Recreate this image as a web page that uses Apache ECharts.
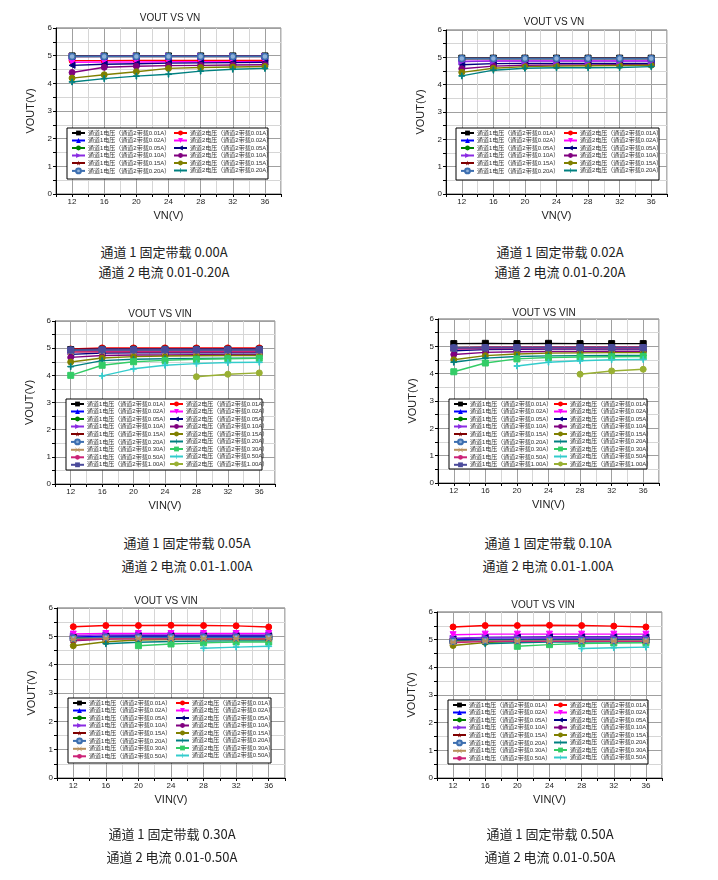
<!DOCTYPE html>
<html><head><meta charset="utf-8">
<script src="https://cdn.jsdelivr.net/npm/echarts@6/dist/echarts.min.js"></script>
<style>
body{margin:0;background:#fff;width:718px;height:880px;position:relative;overflow:hidden}
.ch{position:absolute;width:359px;height:240px}
.cap{position:absolute;font-size:13px;font-family:"Noto Sans CJK SC",sans-serif;color:#222;transform:translateX(-50%);white-space:nowrap;line-height:16px}
</style></head><body>
<div id="c1" class="ch" style="left:0;top:0"></div>
<div id="c2" class="ch" style="left:359px;top:0"></div>
<div id="c3" class="ch" style="left:0;top:290px"></div>
<div id="c4" class="ch" style="left:359px;top:290px"></div>
<div id="c5" class="ch" style="left:0;top:590px"></div>
<div id="c6" class="ch" style="left:359px;top:590px"></div>
<div class="cap" style="left:164px;top:244px">通道 1 固定带载 0.00A</div>
<div class="cap" style="left:164px;top:264px">通道 2 电流 0.01-0.20A</div>
<div class="cap" style="left:560px;top:244px">通道 1 固定带载 0.02A</div>
<div class="cap" style="left:560px;top:264px">通道 2 电流 0.01-0.20A</div>
<div class="cap" style="left:187px;top:535px">通道 1 固定带载 0.05A</div>
<div class="cap" style="left:187px;top:558px">通道 2 电流 0.01-1.00A</div>
<div class="cap" style="left:548px;top:535px">通道 1 固定带载 0.10A</div>
<div class="cap" style="left:548px;top:558px">通道 2 电流 0.01-1.00A</div>
<div class="cap" style="left:172px;top:826px">通道 1 固定带载 0.30A</div>
<div class="cap" style="left:172px;top:849px">通道 2 电流 0.01-0.50A</div>
<div class="cap" style="left:550px;top:826px">通道 1 固定带载 0.50A</div>
<div class="cap" style="left:550px;top:849px">通道 2 电流 0.01-0.50A</div>
<script>
const vin = [12, 16, 20, 24, 28, 32, 36];
const xTickLabels = [12, 16, 20, 24, 28, 32, 36];
const yTickLabels = [0, 1, 2, 3, 4, 5, 6];
const loads = ['0.01A','0.02A','0.05A','0.10A','0.15A','0.20A','0.30A','0.50A','1.00A'];

// Chart 1: ch1 fixed 0.00A
const c1Ch1 = [
  [4.99,4.99,4.99,4.99,4.99,4.99,4.99],
  [4.98,4.98,4.98,4.98,4.98,4.98,4.98],
  [4.98,4.98,4.98,4.98,4.98,4.98,4.98],
  [4.97,4.98,4.98,4.98,4.98,4.98,4.98],
  [4.97,4.97,4.97,4.97,4.97,4.97,4.97],
  [4.97,4.97,4.97,4.97,4.97,4.97,4.97]
];
const c1Ch2 = [
  [4.82,4.82,4.83,4.83,4.83,4.83,4.83],
  [4.76,4.77,4.77,4.78,4.78,4.78,4.78],
  [4.65,4.69,4.71,4.73,4.74,4.75,4.76],
  [4.39,4.58,4.62,4.64,4.65,4.66,4.67],
  [4.19,4.31,4.42,4.54,4.57,4.59,4.61],
  [4.05,4.17,4.26,4.33,4.44,4.51,4.54]
];
// Chart 2: ch1 fixed 0.02A
const c2Ch1 = [
  [4.97,4.97,4.97,4.97,4.97,4.97,4.97],
  [4.96,4.96,4.96,4.96,4.96,4.96,4.96],
  [4.96,4.96,4.96,4.96,4.96,4.96,4.96],
  [4.85,4.86,4.86,4.86,4.86,4.86,4.86],
  [4.96,4.96,4.96,4.96,4.96,4.96,4.96],
  [4.96,4.96,4.96,4.96,4.96,4.96,4.96]
];
const c2Ch2 = [
  [4.96,4.97,4.97,4.97,4.97,4.97,4.97],
  [4.85,4.87,4.87,4.87,4.87,4.87,4.87],
  [4.73,4.77,4.78,4.78,4.78,4.78,4.78],
  [4.58,4.68,4.71,4.72,4.72,4.73,4.73],
  [4.45,4.60,4.66,4.68,4.69,4.70,4.71],
  [4.32,4.53,4.60,4.62,4.62,4.63,4.66]
];
// Chart 3: ch1 fixed 0.05A
const c3Ch1 = [
  [4.95,4.96,4.96,4.96,4.96,4.96,4.96],
  [4.94,4.95,4.95,4.95,4.95,4.95,4.95],
  [4.93,4.94,4.94,4.94,4.94,4.94,4.94],
  [4.90,4.91,4.91,4.91,4.91,4.91,4.91],
  [4.89,4.90,4.90,4.90,4.90,4.90,4.90],
  [4.92,4.93,4.93,4.93,4.93,4.93,4.93],
  [4.87,4.88,4.88,4.88,4.88,4.88,4.88],
  [4.86,4.87,4.87,4.87,4.87,4.87,4.87],
  [4.93,4.94,4.94,4.94,4.94,4.94,4.94]
];
const c3Ch2 = [
  [4.97,5.01,5.01,5.01,5.01,5.01,5.01],
  [4.88,4.91,4.91,4.91,4.91,4.91,4.91],
  [4.77,4.82,4.83,4.83,4.83,4.83,4.83],
  [4.66,4.73,4.75,4.75,4.76,4.76,4.76],
  [4.49,4.64,4.69,4.71,4.72,4.73,4.73],
  [4.32,4.54,4.59,4.61,4.62,4.63,4.63],
  [4.00,4.37,4.50,4.55,4.59,4.61,4.63],
  [null,3.98,4.24,4.37,4.43,4.47,4.48],
  [null,null,null,null,3.95,4.04,4.09]
];
// Chart 4: ch1 fixed 0.10A
const c4Ch1 = [
  [5.10,5.11,5.10,5.11,5.10,5.10,5.10],
  [4.95,4.96,4.96,4.96,4.96,4.96,4.96],
  [4.94,4.95,4.95,4.95,4.95,4.95,4.95],
  [4.93,4.94,4.94,4.94,4.94,4.94,4.94],
  [4.93,4.94,4.94,4.94,4.94,4.94,4.94],
  [4.94,4.95,4.95,4.95,4.95,4.95,4.95],
  [4.92,4.93,4.93,4.93,4.93,4.93,4.93],
  [4.91,4.92,4.92,4.92,4.92,4.92,4.92],
  [4.94,4.95,4.95,4.95,4.95,4.95,4.95]
];
const c4Ch2 = [
  [4.95,4.97,4.97,4.97,4.97,4.97,4.97],
  [4.90,4.93,4.93,4.93,4.93,4.93,4.93],
  [4.84,4.88,4.89,4.90,4.90,4.90,4.90],
  [4.70,4.78,4.80,4.81,4.81,4.82,4.82],
  [4.51,4.66,4.72,4.75,4.76,4.77,4.77],
  [4.42,4.57,4.63,4.65,4.66,4.67,4.67],
  [4.07,4.39,4.54,4.59,4.61,4.62,4.63],
  [null,null,4.28,4.42,4.47,4.51,4.52],
  [null,null,null,null,3.98,4.10,4.16]
];
// Chart 5: ch1 fixed 0.30A
const c5Ch1 = [
  [4.95,4.97,4.97,4.97,4.97,4.97,4.97],
  [4.97,5.00,5.00,5.00,5.00,5.00,5.00],
  [4.94,4.96,4.96,4.96,4.96,4.96,4.96],
  [5.02,5.05,5.05,5.05,5.05,5.05,5.05],
  [4.91,4.94,4.94,4.94,4.94,4.94,4.94],
  [4.93,4.96,4.96,4.96,4.96,4.96,4.96],
  [4.89,4.92,4.92,4.92,4.92,4.92,4.92],
  [4.87,4.91,4.91,4.91,4.91,4.91,4.91]
];
const c5Ch2 = [
  [5.34,5.38,5.38,5.39,5.38,5.37,5.33],
  [5.08,5.10,5.10,5.10,5.10,5.10,5.10],
  [4.95,5.01,5.02,5.02,5.02,5.02,5.02],
  [4.84,4.90,4.92,4.93,4.93,4.93,4.93],
  [4.67,4.81,4.87,4.89,4.89,4.89,4.89],
  [null,4.74,4.79,4.82,4.83,4.84,4.84],
  [null,null,4.67,4.73,4.77,4.80,4.80],
  [null,null,null,null,4.58,4.62,4.65]
];
// Chart 6: ch1 fixed 0.50A
const c6Ch1 = [
  [4.95,4.98,4.98,4.98,4.98,4.98,4.98],
  [4.99,5.02,5.02,5.02,5.02,5.02,5.02],
  [4.96,4.98,4.98,4.98,4.98,4.98,4.98],
  [5.05,5.08,5.08,5.08,5.08,5.08,5.08],
  [4.93,4.96,4.96,4.96,4.96,4.96,4.96],
  [4.94,4.97,4.97,4.97,4.97,4.97,4.97],
  [4.91,4.95,4.95,4.95,4.95,4.95,4.95],
  [4.89,4.94,4.94,4.94,4.94,4.94,4.94]
];
const c6Ch2 = [
  [5.46,5.51,5.51,5.52,5.51,5.49,5.46],
  [5.18,5.20,5.20,5.20,5.20,5.20,5.20],
  [5.03,5.08,5.09,5.10,5.10,5.10,5.10],
  [4.93,5.00,5.01,5.02,5.02,5.02,5.02],
  [4.79,4.90,4.94,4.96,4.97,4.97,4.98],
  [null,4.85,4.89,4.91,4.91,4.92,4.92],
  [null,null,4.76,4.82,4.86,4.88,4.89],
  [null,null,null,null,4.68,4.71,4.73]
];

const STAR = 'path://M50,0 L61,35 L98,35 L68,57 L79,91 L50,70 L21,91 L32,57 L2,35 L39,35 Z';
const PLUS = 'path://M44,0 H56 V44 H100 V56 H56 V100 H44 V56 H0 V44 H44 Z';
const AST = 'path://M8,0 L50,42 L92,0 L100,8 L58,50 L100,92 L92,100 L50,58 L8,100 L0,92 L42,50 L0,8 Z M0,44 H100 V56 H0 Z';
const ch1Style = [
  {c:'#000000', s:'rect', r:0},
  {c:'#0000ff', s:'triangle', r:0},
  {c:'#008000', s:'circle', r:0},
  {c:'#8a2be2', s:'triangle', r:-90},
  {c:'#800000', s:STAR, r:0},
  {c:'#3d6fb0', s:'circle', r:0, ring:true},
  {c:'#b8905c', s:AST, r:0},
  {c:'#cc2277', s:'none', r:0},
  {c:'#4b4b9b', s:'rect', r:0}
];
const ch2Style = [
  {c:'#ff0000', s:'circle', r:0},
  {c:'#ff00ff', s:'triangle', r:180},
  {c:'#000080', s:'triangle', r:90},
  {c:'#800080', s:'circle', r:0},
  {c:'#808000', s:'circle', r:0},
  {c:'#008080', s:PLUS, r:0},
  {c:'#33cc66', s:'rect', r:0},
  {c:'#33cccc', s:PLUS, r:0},
  {c:'#99b033', s:'circle', r:0}
];
const ch1Names = loads.map(l => '通道1电压（通道2带载' + l + '）');
const ch2Names = loads.map(l => '通道2电压（通道2带载' + l + '）');

const charts = [
  {id:'c1', d1:c1Ch1, d2:c1Ch2, title:'VOUT VS VN', xName:'VN(V)', grid:[56,28,225,166], tpos:[170,18], box:[67,128,201,51], yGap:17},
  {id:'c2', d1:c2Ch1, d2:c2Ch2, title:'VOUT VS VN', xName:'VN(V)', grid:[87,30,221,164], tpos:[195,22], box:[97,128,203,52], yGap:17},
  {id:'c3', d1:c3Ch1, d2:c3Ch2, title:'VOUT VS VIN', xName:'VIN(V)', grid:[55,31,220,163], tpos:[160,24], box:[66,109,196,71], yGap:12},
  {id:'c4', d1:c4Ch1, d2:c4Ch2, title:'VOUT VS VIN', xName:'VIN(V)', grid:[79,29,221,164], tpos:[185,23], box:[90,109,198,70], yGap:12},
  {id:'c5', d1:c5Ch1, d2:c5Ch2, title:'VOUT VS VIN', xName:'VIN(V)', grid:[57,18,228,170], tpos:[166,11], box:[68,108,203,65], yGap:12},
  {id:'c6', d1:c6Ch1, d2:c6Ch2, title:'VOUT VS VIN', xName:'VIN(V)', grid:[78,22,225,166], tpos:[184,15], box:[89,110,200,64], yGap:11}
];

const LATIN = 'Liberation Sans, Arial, sans-serif';
const CJK = 'Liberation Sans, Noto Sans CJK SC, sans-serif';

function mkSeries(name, vals, st, z) {
  return {
    type:'line', name:name, z:z,
    data: vin.map((x, j) => [x, vals[j] == null ? '-' : vals[j]]),
    symbol: st.s, symbolSize: 6, symbolRotate: st.r,
    showSymbol: st.s !== 'none',
    lineStyle:{color:st.c, width:1.4},
    itemStyle: st.ring ? {color:'#8fb0d8', borderColor:st.c, borderWidth:1.5} : {color:st.c, borderColor:st.c},
    emphasis:{disabled:true}, animation:false
  };
}

charts.forEach(cfg => {
  const n = cfg.d1.length;
  const chart = echarts.init(document.getElementById(cfg.id), null, {renderer:'canvas'});
  const series = [];
  for (let i = 0; i < n; i++) series.push(mkSeries(ch2Names[i], cfg.d2[i], ch2Style[i], 2));
  for (let i = 0; i < n; i++) series.push(mkSeries(ch1Names[i], cfg.d1[i], ch1Style[i], 3));
  const [gl, gt, gw, gh] = cfg.grid;
  const [bx, by, bw, bh] = cfg.box;
  const legBase = {
    orient:'vertical', top: by + 2, itemWidth: 13, itemHeight: 6, itemGap: 1.5,
    padding: 0, selectedMode: false, z: 10,
    textStyle:{fontSize: 6, lineHeight: 6, fontFamily: CJK, color:'#333', padding:[0,0,0,-2]}
  };
  chart.setOption({
    animation:false,
    grid:{left:gl, top:gt, width:gw, height:gh, show:true, borderColor:'#666', borderWidth:1, backgroundColor:'transparent'},
    xAxis:{
      type:'value', min:10, max:38, interval:2,
      name: cfg.xName, nameLocation:'middle', nameGap:16,
      nameTextStyle:{fontSize:11, fontFamily:LATIN, color:'#222'},
      axisLine:{show:true, onZero:false, lineStyle:{color:'#000', width:1}},
      axisTick:{show:true, length:3, lineStyle:{color:'#000'}},
      axisLabel:{fontSize:8, fontFamily:LATIN, color:'#222', margin:4,
        formatter: v => xTickLabels.includes(v) ? String(v) : ''},
      splitLine:{show:true, lineStyle:{color:['#d6d6d6','#a0a0a0'], width:1}}
    },
    yAxis:{
      type:'value', min:0, max:6, interval:0.5,
      name:'VOUT(V)', nameLocation:'middle', nameGap: cfg.yGap,
      nameTextStyle:{fontSize:11, fontFamily:LATIN, color:'#222'},
      axisLine:{show:true, lineStyle:{color:'#000', width:1}},
      axisTick:{show:true, length:3, lineStyle:{color:'#000'}},
      axisLabel:{fontSize:8, fontFamily:LATIN, color:'#222', margin:4,
        formatter: v => yTickLabels.includes(v) ? String(v) : ''},
      splitLine:{show:true, lineStyle:{color:['#a0a0a0','#d6d6d6'], width:1}}
    },
    legend:[
      Object.assign({}, legBase, {left: bx + 4, data: ch1Names.slice(0, n)}),
      Object.assign({}, legBase, {left: bx + Math.round(bw/2) + 5, data: ch2Names.slice(0, n)})
    ],
    graphic:[
      {type:'rect', z:9, shape:{x:bx, y:by, width:bw, height:bh}, style:{fill:'#fff', stroke:'#000', lineWidth:1}},
      {type:'text', z:9, x:cfg.tpos[0], y:cfg.tpos[1], style:{text:cfg.title, fill:'#222', font:'10px ' + LATIN, align:'center', verticalAlign:'middle'}}
    ],
    series: series
  });
});
</script>
</body></html>
